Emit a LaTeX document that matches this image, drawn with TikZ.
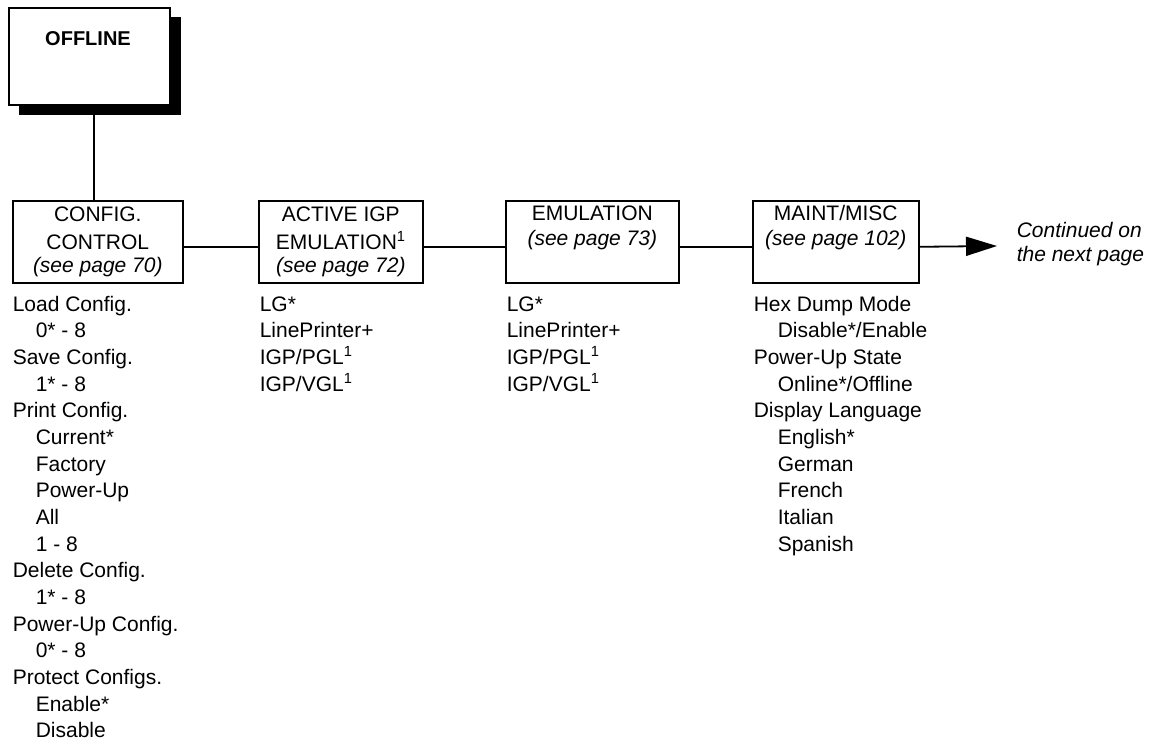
\documentclass[tikz,border=0pt]{standalone}
\usepackage{fontspec}
\setmainfont{Liberation Sans}
\usetikzlibrary{arrows.meta}
\begin{document}
\begin{tikzpicture}[x=1pt,y=-1pt,line width=1.6pt,
  menubox/.style={draw, fill=white, inner sep=0pt, anchor=north west},
  txt/.style={inner sep=0pt, font=\fontsize{21}{26}\selectfont},
  ittxt/.style={inner sep=0pt, font=\fontsize{21}{26}\selectfont\itshape},
  conn/.style={line width=1.8pt}]
\useasboundingbox (0,0) rectangle (1156,746);
% OFFLINE box with shadow
\fill[black] (19,17) rectangle (181,115);
\node[menubox, minimum width=161pt, minimum height=97pt] (off) at (8,7) {};
\node[inner sep=0pt, anchor=base, font=\fontsize{20}{24}\selectfont\bfseries] (offt) at (88,46) {OFFLINE};
% menu boxes
\node[menubox, minimum width=170pt, minimum height=82pt] (cfg) at (12,200) {};
\node[menubox, minimum width=164pt, minimum height=82pt] (act) at (258,200) {};
\node[menubox, minimum width=173pt, minimum height=82pt] (emu) at (505,200) {};
\node[menubox, minimum width=166pt, minimum height=82pt] (mnt) at (752,200) {};
% box texts
\node[txt, anchor=base] (cfg1) at (cfg.north |- 0,222) {CONFIG.};
\node[txt, anchor=base] (cfg2) at (cfg.north |- 0,249) {CONTROL};
\node[ittxt, anchor=base] (cfg3) at (cfg.north |- 0,272) {(see page 70)};
\node[txt, anchor=base] (act1) at (act.north |- 0,222) {ACTIVE IGP};
\node[txt, anchor=base] (act2) at (act.north |- 0,249) {EMULATION\textsuperscript{1}};
\node[ittxt, anchor=base] (act3) at (act.north |- 0,272) {(see page 72)};
\node[txt, anchor=base] (emu1) at (emu.north |- 0,221) {EMULATION};
\node[ittxt, anchor=base] (emu2) at (emu.north |- 0,245) {(see page 73)};
\node[txt, anchor=base] (mnt1) at (mnt.north |- 0,221) {MAINT/MISC};
\node[ittxt, anchor=base] (mnt2) at (mnt.north |- 0,245) {(see page 102)};
% connectors
\coordinate (sh) at (94,115);
\draw[conn] (sh) -- (sh |- cfg.north);
\draw[conn] ([yshift=-5pt]cfg.east) -- ([yshift=-5pt]act.west);
\draw[conn] ([yshift=-5pt]act.east) -- ([yshift=-5pt]emu.west);
\draw[conn] ([yshift=-5pt]emu.east) -- ([yshift=-5pt]mnt.west);
\coordinate (tip) at (997,246);
\draw[conn, -{Triangle[length=31pt 0,width=19pt 0]}] ([yshift=-5pt]mnt.east) -- (tip);
\node[ittxt, anchor=base west] (cont1) at (1016,237) {Continued on};
\node[ittxt, anchor=base west] (cont2) at (1016,261) {the next page};
% lists
\foreach \d/\t [count=\i] in {0/{Load Config.},1/{0* - 8},0/{Save Config.},1/{1* - 8},0/{Print Config.},1/{Current*},1/{Factory},1/{Power-Up},1/{All},1/{1 - 8},0/{Delete Config.},1/{1* - 8},0/{Power-Up Config.},1/{0* - 8},0/{Protect Configs.},1/{Enable*},1/{Disable}}
  \node[txt, anchor=base west] (cl\i) at (12+23*\d, 311+26.67*\i-26.67) {\t};
\foreach \t [count=\i] in {{LG*},{LinePrinter+},{IGP/PGL\textsuperscript{1}},{IGP/VGL\textsuperscript{1}}}
  \node[txt, anchor=base west] (al\i) at (259, 311+26.67*\i-26.67) {\t};
\foreach \t [count=\i] in {{LG*},{LinePrinter+},{IGP/PGL\textsuperscript{1}},{IGP/VGL\textsuperscript{1}}}
  \node[txt, anchor=base west] (el\i) at (506, 311+26.67*\i-26.67) {\t};
\foreach \d/\t [count=\i] in {0/{Hex Dump Mode},1/{Disable*/Enable},0/{Power-Up State},1/{Online*/Offline},0/{Display Language},1/{English*},1/{German},1/{French},1/{Italian},1/{Spanish}}
  \node[txt, anchor=base west] (ml\i) at (753+24*\d, 311+26.67*\i-26.67) {\t};
\end{tikzpicture}
\end{document}
